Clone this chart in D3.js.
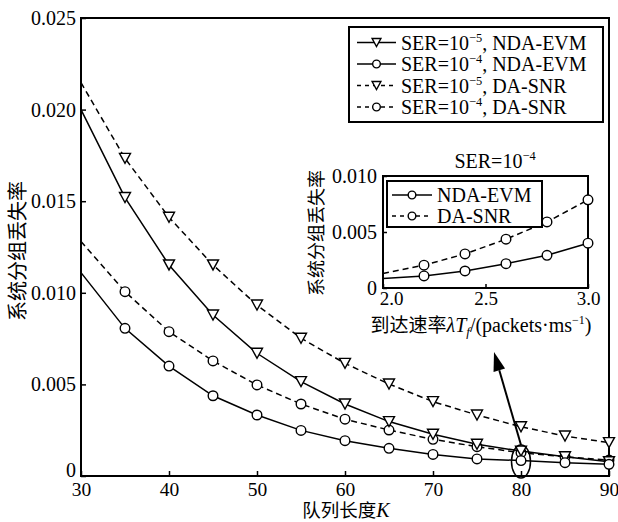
<!DOCTYPE html>
<html>
<head>
<meta charset="utf-8">
<script src="https://cdn.jsdelivr.net/npm/d3@7"></script>
<style>
  body { margin: 0; background: #fff; }
  svg { display: block; }
  .serif { font-family: 'Liberation Serif', 'DejaVu Serif', serif; }
  .cjk { font-family: 'Noto Sans CJK SC', sans-serif; }
</style>
</head>
<body>
<div id="chart"><svg width="618" height="522"></svg></div>
<script>
// main plot data
const queueLen = [30, 35, 40, 45, 50, 55, 60, 65, 70, 75, 80, 85, 90];
const ser5Nda = [0.0200, 0.0152, 0.01152, 0.00879, 0.0067, 0.00515, 0.00393, 0.00297, 0.00228, 0.00173, 0.00136, 0.00105, 0.00078];
const ser4Nda = [0.0111, 0.00806, 0.0060, 0.00438, 0.00333, 0.00249, 0.00193, 0.00151, 0.00118, 0.00093, 0.00084, 0.00073, 0.00064];
const ser5Da = [0.02147, 0.01734, 0.01412, 0.01152, 0.00933, 0.00752, 0.00615, 0.00502, 0.00406, 0.00333, 0.00269, 0.00218, 0.00182];
const ser4Da = [0.0128, 0.01006, 0.00788, 0.00628, 0.00497, 0.00393, 0.0031, 0.00251, 0.0020, 0.0016, 0.00127, 0.00105, 0.00087];
const xTicks = [30, 40, 50, 60, 70, 80, 90];
const yTicks = [0, 0.005, 0.010, 0.015, 0.020, 0.025];

// inset data (SER=1e-4)
const arrivalRate = [2.0, 2.2, 2.4, 2.6, 2.8, 3.0];
const insetNda = [0.00085, 0.00108, 0.00152, 0.00217, 0.00292, 0.0040];
const insetDa = [0.0013, 0.00204, 0.00304, 0.00436, 0.0059, 0.00787];
const insetXTicks = [2.0, 2.5, 3.0];
const insetYTicks = [0, 0.005, 0.010];

const svg = d3.select('#chart svg');

const x = d3.scaleLinear().domain([30, 90]).range([81, 609]);
const y = d3.scaleLinear().domain([0, 0.025]).range([476, 18]);
const ix = d3.scaleLinear().domain([2.0, 3.0]).range([383, 588]);
const iy = d3.scaleLinear().domain([0, 0.010]).range([288, 176]);

const dashed = '6,4';

function drawSeries(g, xs, ys, sx, sy, dash, marker, skipFirst) {
    const pts = xs.map((v, i) => [sx(v), sy(ys[i])]);
    g.append('path')
        .attr('d', d3.line()(pts))
        .attr('fill', 'none')
        .attr('stroke', '#000')
        .attr('stroke-width', 1.5)
        .attr('stroke-dasharray', dash);
    pts.forEach((p, i) => {
        if (skipFirst && i === 0) return;
        drawMarker(g, p[0], p[1], marker, 1);
    });
}

function drawMarker(g, cx, cy, marker, s) {
    if (marker === 'tri') {
        const w = 5.5 * s, h = 5 * s;
        g.append('path')
            .attr('d', `M${cx - w},${cy - h}L${cx + w},${cy - h}L${cx},${cy + h}Z`)
            .attr('fill', '#fff').attr('stroke', '#000').attr('stroke-width', 1.4);
    } else {
        g.append('circle')
            .attr('cx', cx).attr('cy', cy).attr('r', 4.8 * s)
            .attr('fill', '#fff').attr('stroke', '#000').attr('stroke-width', 1.4);
    }
}

// series label with superscript exponent
function serLabel(t, exp, rest) {
    t.append('tspan').text('SER=10');
    t.append('tspan').text(exp).attr('font-size', '0.62em').attr('dy', -8);
    t.append('tspan').text(rest).attr('dy', 8);
}

function styleAxis(ax, size) {
    ax.attr('font-family', null).attr('font-size', null);
    ax.select('.domain').remove();
    ax.selectAll('line').attr('stroke-width', 1.5);
    ax.selectAll('text').attr('class', 'serif').attr('font-size', size);
}

// ---------- main axes ----------
const gAxes = svg.append('g');
gAxes.append('rect')
    .attr('x', 81).attr('y', 18).attr('width', 528).attr('height', 458)
    .attr('fill', 'none').attr('stroke', '#000').attr('stroke-width', 2);

const xAxis = gAxes.append('g').attr('transform', 'translate(0,476)')
    .call(d3.axisBottom(x).tickValues(xTicks).tickSizeInner(-5).tickSizeOuter(0).tickPadding(6));
styleAxis(xAxis, 19.5);

const yAxis = gAxes.append('g').attr('transform', 'translate(81,0)')
    .call(d3.axisLeft(y).tickValues(yTicks).tickSizeInner(-5).tickSizeOuter(0).tickPadding(5)
        .tickFormat(d => d === 0 ? '0' : d3.format('.3f')(d)));
styleAxis(yAxis, 20);
yAxis.selectAll('text').attr('dy', (d, i) => i === 0 ? '0' : '0.32em');

const xl = svg.append('text').attr('x', 346).attr('y', 517).attr('text-anchor', 'middle').attr('font-size', 18.5);
xl.append('tspan').attr('class', 'cjk').text('队列长度');
xl.append('tspan').attr('class', 'serif').text('K').attr('font-style', 'italic').attr('font-size', 20);

svg.append('text').attr('class', 'cjk')
    .attr('transform', 'translate(25,251) rotate(-90)')
    .attr('text-anchor', 'middle').attr('font-size', 20)
    .text('系统分组丢失率');

// ---------- main series ----------
const gData = svg.append('g');
drawSeries(gData, queueLen, ser5Da, x, y, dashed, 'tri', true);
drawSeries(gData, queueLen, ser4Da, x, y, dashed, 'circ', true);
drawSeries(gData, queueLen, ser5Nda, x, y, null, 'tri', true);
drawSeries(gData, queueLen, ser4Nda, x, y, null, 'circ', true);

// ---------- main legend ----------
const legendItems = [
    { exp: '−5', rest: ', NDA-EVM', dash: null, marker: 'tri' },
    { exp: '−4', rest: ', NDA-EVM', dash: null, marker: 'circ' },
    { exp: '−5', rest: ', DA-SNR', dash: '4,4', marker: 'tri' },
    { exp: '−4', rest: ', DA-SNR', dash: '4,4', marker: 'circ' }
];
const gLeg = svg.append('g');
gLeg.append('rect').attr('x', 349).attr('y', 27).attr('width', 254).attr('height', 95)
    .attr('fill', '#fff').attr('stroke', '#000').attr('stroke-width', 2);
legendItems.forEach((d, i) => {
    const cy = 42.5 + i * 21.5;
    gLeg.append('line').attr('x1', 357).attr('x2', 396).attr('y1', cy).attr('y2', cy)
        .attr('stroke', '#000').attr('stroke-width', 1.5).attr('stroke-dasharray', d.dash);
    drawMarker(gLeg, 376.5, cy, d.marker, 0.8);
    const t = gLeg.append('text').attr('class', 'serif').attr('x', 401).attr('y', cy + 7).attr('font-size', 20);
    serLabel(t, d.exp, d.rest);
});

// ---------- ellipse + arrow ----------
const gAnn = svg.append('g');
gAnn.append('ellipse').attr('cx', x(80)).attr('cy', 461.5).attr('rx', 9.5).attr('ry', 16.5)
    .attr('fill', 'none').attr('stroke', '#000').attr('stroke-width', 1.5);
const a0 = [x(80), 445], a1 = [494, 352];
const ang = Math.atan2(a1[1] - a0[1], a1[0] - a0[0]);
const hl = 19, hw = 6;
const base = [a1[0] - hl * Math.cos(ang), a1[1] - hl * Math.sin(ang)];
gAnn.append('line').attr('x1', a0[0]).attr('y1', a0[1]).attr('x2', base[0]).attr('y2', base[1])
    .attr('stroke', '#000').attr('stroke-width', 2);
gAnn.append('path')
    .attr('d', `M${a1[0]},${a1[1]}L${base[0] + hw * Math.sin(ang)},${base[1] - hw * Math.cos(ang)}L${base[0] - hw * Math.sin(ang)},${base[1] + hw * Math.cos(ang)}Z`)
    .attr('fill', '#000');

// ---------- inset ----------
const gIn = svg.append('g');
gIn.append('rect').attr('x', 383).attr('y', 176).attr('width', 205).attr('height', 112)
    .attr('fill', '#fff').attr('stroke', '#000').attr('stroke-width', 2);

const ixAxis = gIn.append('g').attr('transform', 'translate(0,288)')
    .call(d3.axisBottom(ix).tickValues(insetXTicks).tickSizeInner(-4).tickSizeOuter(0).tickPadding(3)
        .tickFormat(d3.format('.1f')));
styleAxis(ixAxis, 19);
ixAxis.selectAll('text').attr('dx', (d, i) => i === 0 ? 8 : 0);

const iyAxis = gIn.append('g').attr('transform', 'translate(383,0)')
    .call(d3.axisLeft(iy).tickValues(insetYTicks).tickSizeInner(-4).tickSizeOuter(0).tickPadding(6)
        .tickFormat(d => d === 0 ? '0' : d3.format('.3f')(d)));
styleAxis(iyAxis, 20);

drawSeries(gIn, arrivalRate, insetDa, ix, iy, dashed, 'circ', true);
drawSeries(gIn, arrivalRate, insetNda, ix, iy, null, 'circ', true);

const it = gIn.append('text').attr('class', 'serif').attr('x', 495).attr('y', 168).attr('text-anchor', 'middle').attr('font-size', 20);
serLabel(it, '−4', '');

const ixl = gIn.append('text').attr('x', 481).attr('y', 332).attr('text-anchor', 'middle').attr('font-size', 19);
ixl.append('tspan').attr('class', 'cjk').text('到达速率');
ixl.append('tspan').attr('class', 'serif').text('λT').attr('font-style', 'italic').attr('font-size', 20);
ixl.append('tspan').attr('class', 'serif').text('f').attr('font-style', 'italic').attr('font-size', 13).attr('dy', 4);
ixl.append('tspan').attr('class', 'serif').text('/(packets·ms').attr('font-size', 20).attr('dy', -4);
ixl.append('tspan').attr('class', 'serif').text('−1').attr('font-size', 12).attr('dy', -8);
ixl.append('tspan').attr('class', 'serif').text(')').attr('font-size', 20).attr('dy', 8);

gIn.append('text').attr('class', 'cjk')
    .attr('transform', 'translate(323,233) rotate(-90)')
    .attr('text-anchor', 'middle').attr('font-size', 18)
    .text('系统分组丢失率');

const insetLegend = [
    { label: 'NDA-EVM', dash: null },
    { label: 'DA-SNR', dash: '4,4' }
];
gIn.append('rect').attr('x', 387).attr('y', 181).attr('width', 155).attr('height', 46)
    .attr('fill', '#fff').attr('stroke', '#000').attr('stroke-width', 2);
insetLegend.forEach((d, i) => {
    const cy = 195 + i * 21;
    gIn.append('line').attr('x1', 392).attr('x2', 432).attr('y1', cy).attr('y2', cy)
        .attr('stroke', '#000').attr('stroke-width', 1.5).attr('stroke-dasharray', d.dash);
    drawMarker(gIn, 412, cy, 'circ', 0.8);
    gIn.append('text').attr('class', 'serif').attr('x', 437).attr('y', cy + 7).attr('font-size', 20).text(d.label);
});
</script>
</body>
</html>
